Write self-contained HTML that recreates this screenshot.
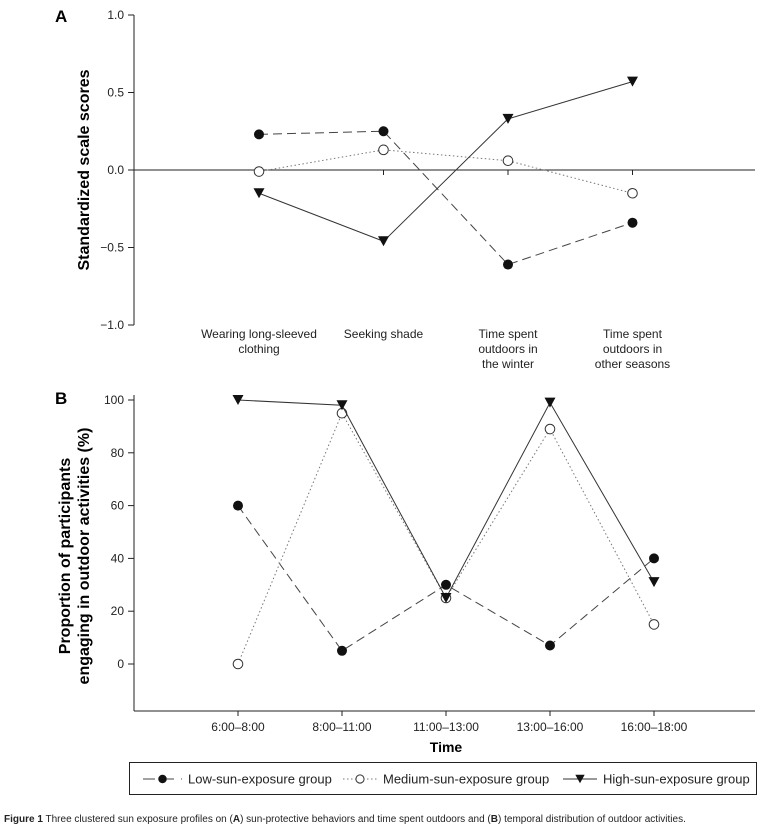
<!DOCTYPE html>
<html><head><meta charset="utf-8"><style>
body{margin:0;background:#fff;width:775px;height:833px;overflow:hidden;font-family:"Liberation Sans",sans-serif}
svg text{font-family:"Liberation Sans",sans-serif}
</style></head><body>
<svg id="fig" width="775" height="833" xmlns="http://www.w3.org/2000/svg">
<g id="pa"></g>
<g id="pb"></g>
<g id="lg"></g>
<text x="4" y="822" font-size="10" fill="#222"><tspan font-weight="bold">Figure 1</tspan> Three clustered sun exposure profiles on (<tspan font-weight="bold">A</tspan>) sun-protective behaviors and time spent outdoors and (<tspan font-weight="bold">B</tspan>) temporal distribution of outdoor activities.</text>
</svg>
<script>
const catsA=[["Wearing long-sleeved","clothing"],["Seeking shade"],["Time spent","outdoors in","the winter"],["Time spent","outdoors in","other seasons"]];
const lowA=[0.23,0.25,-0.61,-0.34];
const medA=[-0.01,0.13,0.06,-0.15];
const highA=[-0.15,-0.46,0.33,0.57];
const ticksA=[1.0,0.5,0.0,-0.5,-1.0];
const catsB=["6:00–8:00","8:00–11:00","11:00–13:00","13:00–16:00","16:00–18:00"];
const lowB=[60,5,30,7,40];
const medB=[0,95,25,89,15];
const highB=[100,98,25,99,31];
const ticksB=[0,20,40,60,80,100];

const NS="http://www.w3.org/2000/svg";
function mk(p,t,a){const e=document.createElementNS(NS,t);for(const k in a)e.setAttribute(k,a[k]);p.appendChild(e);return e;}
const pa=document.getElementById('pa'),pb=document.getElementById('pb'),lg=document.getElementById('lg');
const styles={low:{dash:"9,5",stroke:"#444"},med:{dash:"1.5,2.5",stroke:"#777"},high:{dash:"",stroke:"#333"}};
function marker(g,kind,x,y,s){
 s=s||1;
 let m;
 if(kind==='low')m=mk(g,'circle',{cx:x,cy:y,r:5*s,fill:"#111"});
 else if(kind==='med')m=mk(g,'circle',{cx:x,cy:y,r:4.8*s,fill:"#fff",stroke:"#333","stroke-width":1});
 else m=mk(g,'path',{d:`M${x-5.5*s},${y-5*s} L${x+5.5*s},${y-5*s} L${x},${y+5*s} Z`,fill:"#111"});
 
 
}
function series(g,kind,xs,ys){
 const s=styles[kind];
 const pl=mk(g,'polyline',{points:xs.map((x,i)=>x+","+ys[i]).join(" "),fill:"none",stroke:s.stroke,"stroke-width":1,"stroke-dasharray":s.dash});
 
 
 xs.forEach((x,i)=>marker(g,kind,x,ys[i]));
}
// Panel A
const yA=v=>170-v*155;
const xA=i=>259+i*124.5;
mk(pa,'text',{x:55,y:22,"font-size":17,"font-weight":"bold"}).textContent="A";
mk(pa,'line',{x1:134,y1:15,x2:134,y2:325,stroke:"#222"});
mk(pa,'line',{x1:134,y1:170,x2:755,y2:170,stroke:"#222"});
ticksA.forEach(t=>{const y=yA(t);mk(pa,'line',{x1:128,y1:y,x2:134,y2:y,stroke:"#222"});
 const tx=mk(pa,'text',{x:124,y:y+4,"font-size":12,"text-anchor":"end",fill:"#222"});tx.textContent=(t<0?"−":"")+Math.abs(t).toFixed(1);
 });
catsA.forEach((c,i)=>{const x=xA(i);mk(pa,'line',{x1:x,y1:170,x2:x,y2:175,stroke:"#222"});
 c.forEach((l,j)=>{const tx=mk(pa,'text',{x:x,y:338+j*15,"font-size":12,"text-anchor":"middle",fill:"#222"});tx.textContent=l;
 });});
const ya=mk(pa,'text',{transform:"translate(89,170) rotate(-90)","font-size":16,"font-weight":"bold","text-anchor":"middle"});ya.textContent="Standardized scale scores";

const xsA=catsA.map((c,i)=>xA(i));
series(pa,'low',xsA,lowA.map(yA));series(pa,'med',xsA,medA.map(yA));series(pa,'high',xsA,highA.map(yA));
// Panel B
const yB=v=>664-v*2.64;
const xB=i=>238+i*104;
mk(pb,'text',{x:55,y:404,"font-size":17,"font-weight":"bold"}).textContent="B";
mk(pb,'line',{x1:134,y1:395,x2:134,y2:711,stroke:"#222"});
mk(pb,'line',{x1:134,y1:711,x2:755,y2:711,stroke:"#222"});
ticksB.forEach(t=>{const y=yB(t);mk(pb,'line',{x1:128,y1:y,x2:134,y2:y,stroke:"#222"});
 const tx=mk(pb,'text',{x:124,y:y+4,"font-size":12,"text-anchor":"end",fill:"#222"});tx.textContent=t;
 });
catsB.forEach((c,i)=>{const x=xB(i);mk(pb,'line',{x1:x,y1:711,x2:x,y2:716,stroke:"#222"});
 const tx=mk(pb,'text',{x:x,y:731,"font-size":12,"text-anchor":"middle",fill:"#222"});tx.textContent=c;
 });
const xb=mk(pb,'text',{x:446,y:752,"font-size":14,"font-weight":"bold","text-anchor":"middle"});xb.textContent="Time";

const yb=mk(pb,'text',{transform:"translate(0,556) rotate(-90)","font-size":16,"font-weight":"bold","text-anchor":"middle"});
mk(yb,'tspan',{x:0,y:70}).textContent="Proportion of participants";
mk(yb,'tspan',{x:0,y:89}).textContent="engaging in outdoor activities (%)";

const xsB=catsB.map((c,i)=>xB(i));
series(pb,'low',xsB,lowB.map(yB));series(pb,'med',xsB,medB.map(yB));series(pb,'high',xsB,highB.map(yB));
// Legend
mk(lg,'rect',{x:129.5,y:762.5,width:627,height:32,fill:"none",stroke:"#222"});
const items=[["low","Low-sun-exposure group",143,188],["med","Medium-sun-exposure group",343,383],["high","High-sun-exposure group",563,603]];
items.forEach(([k,l,x,tx0])=>{const g=mk(lg,'g',{});
 const w=tx0-x-6;
 mk(g,'line',{x1:x,y1:779,x2:x+w,y2:779,stroke:styles[k].stroke,"stroke-dasharray":k==='low'?"12,7":(k==='med'?"1.5,2.5":"")});
 marker(g,k,x+w/2,779,0.85);
 const t=mk(g,'text',{x:tx0,y:783.5,"font-size":13,fill:"#222"});t.textContent=l;});
</script>
</body></html>
